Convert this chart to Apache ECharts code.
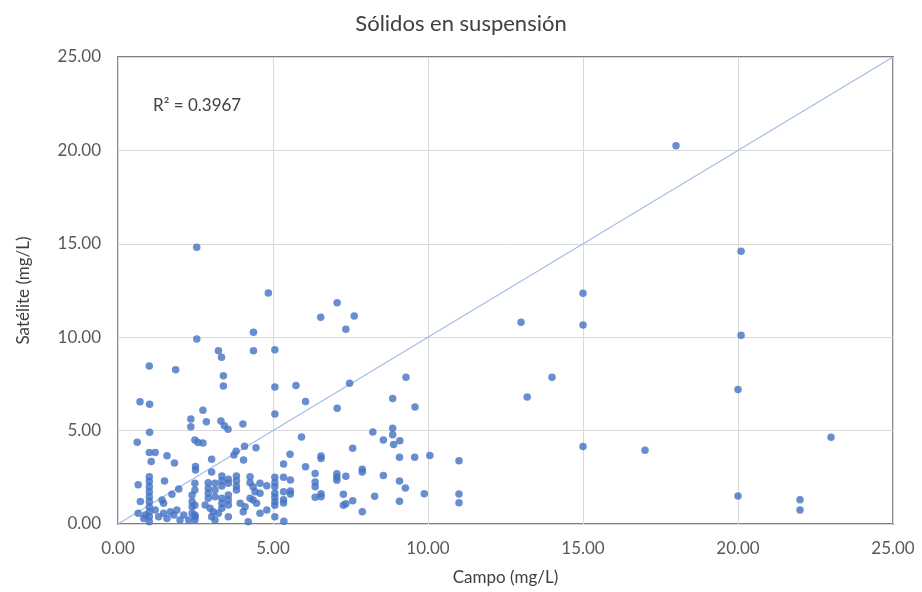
<!DOCTYPE html>
<html>
<head>
<meta charset="utf-8">
<script src="https://cdn.jsdelivr.net/npm/echarts@6/dist/echarts.min.js"></script>
<style>
  html, body { margin: 0; padding: 0; background: #ffffff; }
  #chart { width: 922px; height: 592px; }
</style>
</head>
<body>
<div id="chart"></div>
<script>
// Campo vs. satélite, sólidos en suspensión (mg/L)
const campo = [
  18.0, 20.1, 15.0, 15.0, 13.0, 20.1, 14.0, 13.2, 20.0, 15.0, 17.0, 23.0, 20.0, 22.0, 22.0,
  2.54, 4.85, 7.07, 6.54, 7.62, 7.35, 4.37, 2.54, 3.24, 3.34, 4.37, 5.06, 1.01, 1.86, 3.40,
  3.40, 5.06, 5.74, 7.47, 9.29, 6.05, 8.86, 7.07, 9.58, 5.06, 0.71, 1.02, 2.74, 2.35, 2.85,
  2.35, 3.32, 3.43, 3.55, 4.03, 1.02, 8.22, 8.86,
  0.62, 2.48, 2.58, 2.74, 5.92, 8.86, 8.56, 9.09, 8.89, 4.08, 4.45, 7.57,
  1.01, 1.20, 1.58, 1.07, 1.82, 2.50, 2.50, 3.02, 3.81, 3.74, 4.05, 5.55, 6.55, 6.55, 5.34,
  6.05, 9.08, 9.57, 10.06, 11.0,
  7.88, 7.88, 6.36, 6.36, 6.36, 7.06, 7.06, 7.06, 7.35, 8.56, 5.06, 5.34, 5.56, 9.08, 4.58,
  4.80, 3.02, 3.35, 3.35, 3.35, 3.56, 3.56, 3.82, 3.82, 3.82, 3.82, 2.91, 2.91, 2.91, 2.91,
  3.13, 3.13, 3.13, 2.48, 2.48, 4.26, 4.26, 4.36, 4.42, 4.26, 4.36, 5.06, 5.06,
  1.01, 1.01, 1.01, 1.01, 1.01, 1.01, 1.01, 1.01, 1.01, 1.01, 1.50, 0.65,
  9.27, 9.88, 11.0, 11.0, 5.06, 5.06, 5.06, 5.06, 5.34, 5.34, 5.34, 5.56, 5.56, 6.36, 6.55,
  6.55, 7.27, 7.35, 7.27, 7.57, 8.28, 9.08, 4.58, 1.96, 1.74, 1.42, 1.47, 0.72,
  2.39, 2.39, 2.39, 2.39, 3.56, 3.56, 3.56, 3.35, 3.35, 3.35, 3.94, 4.47, 2.48,
  7.88, 5.35, 4.80, 4.58, 4.10, 4.04, 4.20, 5.06, 2.48, 2.48, 3.56, 3.02, 3.13,
  2.81, 2.97, 3.07, 3.24, 0.65, 0.88, 0.83,
  1.20, 1.31, 1.47, 1.58, 1.69, 1.80, 1.90, 2.00, 2.12, 2.28, 2.49
];
const satelite = [
  20.25, 14.6, 12.35, 10.65, 10.8, 10.1, 7.85, 6.8, 7.2, 4.15, 3.95, 4.65, 1.5, 1.3, 0.75,
  14.81, 12.37, 11.85, 11.07, 11.13, 10.42, 10.26, 9.90, 9.28, 8.92, 9.28, 9.33, 8.46, 8.26, 7.94,
  7.39, 7.33, 7.42, 7.53, 7.85, 6.56, 6.72, 6.20, 6.26, 5.89, 6.55, 6.41, 6.09, 5.62, 5.48,
  5.21, 5.51, 5.26, 5.07, 5.35, 4.91, 4.92, 5.12,
  4.37, 4.50, 4.36, 4.33, 4.66, 4.78, 4.50, 4.45, 4.25, 4.16, 4.08, 4.05,
  3.83, 3.83, 3.66, 3.34, 3.26, 3.08, 2.89, 3.47, 3.90, 3.69, 3.42, 3.73, 3.64, 3.50, 3.21,
  3.06, 3.57, 3.57, 3.67, 3.39,
  2.93, 2.78, 2.71, 2.25, 2.00, 2.69, 2.50, 2.34, 2.56, 2.59, 2.50, 2.50, 2.35, 2.30, 2.18,
  2.05, 2.78, 2.57, 2.32, 2.03, 2.39, 2.18, 2.57, 2.32, 2.03, 1.82, 2.21, 1.91, 1.64, 1.38,
  2.18, 1.82, 1.46, 2.18, 1.82, 2.53, 2.21, 2.00, 1.73, 1.38, 1.28, 2.21, 2.00,
  2.53, 2.27, 2.00, 1.73, 1.46, 1.20, 0.93, 0.66, 0.39, 0.12, 2.30, 2.10,
  1.93, 1.62, 1.60, 1.14, 1.64, 1.43, 1.19, 1.00, 1.73, 1.30, 1.12, 1.76, 1.60, 1.43, 1.62,
  1.46, 1.59, 1.09, 1.00, 1.25, 1.48, 1.22, 1.64, 1.88, 1.59, 1.28, 1.11, 1.20,
  1.55, 1.20, 0.93, 0.57, 1.55, 1.28, 1.02, 1.38, 1.11, 0.84, 1.11, 1.11, 1.00,
  0.66, 0.15, 0.75, 0.57, 0.93, 0.66, 0.12, 0.39, 0.48, 0.21, 0.39, 0.39, 0.21,
  1.02, 0.84, 0.66, 0.57, 0.57, 0.48, 0.30,
  0.75, 0.39, 0.57, 0.30, 0.66, 0.48, 0.75, 0.21, 0.48, 0.21, 0.39
];
// 1:1 reference line
const refX = [0, 25];
const refY = [0, 25];
const r2Text = 'R² = 0.3967';

const FONT = 'Lato, "Open Sans", sans-serif';

const chart = echarts.init(document.getElementById('chart'), null, { renderer: 'canvas' });

const points = campo.map((c, i) => [c, satelite[i]]);
const refLine = refX.map((x, i) => [x, refY[i]]);

chart.setOption({
  animation: false,
  backgroundColor: '#ffffff',
  title: {
    text: 'Sólidos en suspensión',
    left: 'center',
    top: 8,
    textStyle: { fontFamily: FONT, fontSize: 22, fontWeight: 'normal', color: '#404040' }
  },
  grid: {
    left: 118, right: 29, top: 57, bottom: 68,
    show: true, borderColor: '#7f7f7f', borderWidth: 1.8,
    containLabel: false
  },
  xAxis: {
    type: 'value', min: 0, max: 25, interval: 5,
    name: 'Campo (mg/L)', nameLocation: 'middle', nameGap: 45,
    nameTextStyle: { fontFamily: FONT, fontSize: 17, color: '#404040' },
    axisLine: { show: false },
    axisTick: { show: false },
    axisLabel: { fontFamily: FONT, fontSize: 17, color: '#595959', margin: 16,
      formatter: v => v.toFixed(2) },
    splitLine: { lineStyle: { color: '#d9d9d9', width: 1 } }
  },
  yAxis: {
    type: 'value', min: 0, max: 25, interval: 5,
    name: 'Satélite (mg/L)', nameLocation: 'middle', nameGap: 86,
    nameTextStyle: { fontFamily: FONT, fontSize: 17, color: '#404040' },
    axisLine: { show: false },
    axisTick: { show: false },
    axisLabel: { fontFamily: FONT, fontSize: 17, color: '#595959', margin: 17,
      formatter: v => v.toFixed(2) },
    splitLine: { lineStyle: { color: '#d9d9d9', width: 1 } }
  },
  graphic: [{
    type: 'text', left: 153, top: 97,
    style: { text: r2Text, fontFamily: FONT, fontSize: 17, fill: '#404040' }
  }],
  series: [
    {
      type: 'line',
      data: refLine,
      symbol: 'none',
      lineStyle: { color: '#a3bde3', width: 1.2 },
      z: 1
    },
    {
      type: 'scatter',
      data: points,
      symbol: 'circle',
      symbolSize: 7.5,
      itemStyle: { color: '#4472c4' },
      z: 2
    }
  ]
});
</script>
</body>
</html>
